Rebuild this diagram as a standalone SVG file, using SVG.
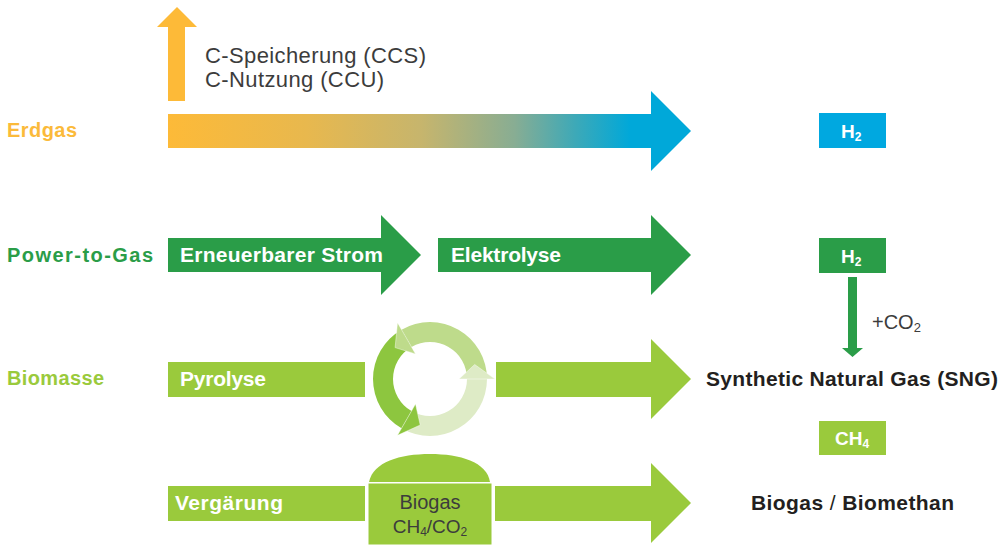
<svg xmlns="http://www.w3.org/2000/svg" width="1001" height="545" viewBox="0 0 1001 545">
<style>
.lbl{font-family:"Liberation Sans",Arial,sans-serif;font-weight:bold;}
.w{fill:#ffffff;}
.blk{fill:#231f20;}
.lt{font-family:"Liberation Sans",Arial,sans-serif;font-weight:normal;fill:#3c3c3c;}
.dg{fill:#2a9d48;}
.lg{fill:#9aca3c;}
.sep{stroke:#ffffff;stroke-width:0.6;stroke-opacity:0.7;}
</style>
<defs>
<linearGradient id="erdgrad" gradientUnits="userSpaceOnUse" x1="168" y1="0" x2="630" y2="0">
<stop offset="0" stop-color="#fdba38"/>
<stop offset="0.3" stop-color="#e8b84e"/>
<stop offset="0.55" stop-color="#c6b56d"/>
<stop offset="0.75" stop-color="#88ad93"/>
<stop offset="0.88" stop-color="#3ea9b7"/>
<stop offset="1" stop-color="#00a8d9"/>
</linearGradient>
</defs>
<rect width="1001" height="545" fill="#ffffff"/>

<g id="label-erdgas"><text class="lbl" x="7" y="137" font-size="20" fill="#fbba3a" textLength="70">Erdgas</text></g>
<g id="label-ptg"><text class="lbl dg" x="7" y="262" font-size="20" textLength="146">Power-to-Gas</text></g>
<g id="label-biomasse"><text class="lbl lg" x="7" y="385" font-size="20" textLength="97">Biomasse</text></g>

<g id="ccs-text">
<text class="lt" x="205" y="63" font-size="22" textLength="221">C-Speicherung (CCS)</text>
<text class="lt" x="205" y="87" font-size="22" textLength="179">C-Nutzung (CCU)</text>
</g>

<g id="erdgas-arrow"><polygon points="168,114 651,114 651,91 691,131 651,171 651,148 168,148" fill="url(#erdgrad)"/></g>

<g id="strom-arrow">
<polygon class="dg" points="168,238 381,238 381,215 421,255 381,295 381,272 168,272"/>
<text class="lbl w" x="180" y="262" font-size="21" textLength="203">Erneuerbarer Strom</text>
</g>
<g id="elektrolyse-arrow">
<polygon class="dg" points="438,238 651,238 651,215 691,255 651,295 651,272 438,272"/>
<text class="lbl w" x="451" y="262" font-size="21" textLength="110">Elektrolyse</text>
</g>

<g id="pyrolyse">
<rect class="lg" x="168" y="362" width="197" height="35"/>
<text class="lbl w" x="180" y="386" font-size="21" textLength="86">Pyrolyse</text>
</g>
<g id="pyrolyse-arrow"><polygon class="lg" points="496,362 651,362 651,339 691,379 651,419 651,397 496,397"/></g>

<g id="cycle">
<path fill="#deebc6" d="M487,379 A57,57 0 0 1 401.5,428.36 L411.5,411.04 A37,37 0 0 0 467,379 Z"/>
<path fill="#8dc63f" d="M401.5,428.36 A57,57 0 0 1 401.5,329.64 L411.5,346.96 A37,37 0 0 0 411.5,411.04 Z"/>
<path fill="#bedb8b" d="M401.5,329.64 A57,57 0 0 1 487,379 L467,379 A37,37 0 0 0 411.5,346.96 Z"/>
<polygon class="sep" fill="#deebc6" points="459,379 495,379 474.7,364.5"/>
<polygon class="sep" fill="#bedb8b" points="415.5,353.9 397.5,322.7 395.1,347.6"/>
<polygon class="sep" fill="#8dc63f" points="415.5,404.1 397.5,435.3 420.2,425"/>
</g>

<g id="vergaerung">
<rect class="lg" x="168" y="486" width="197" height="35"/>
<text class="lbl w" x="175" y="510" font-size="21" textLength="108">Vergärung</text>
</g>
<g id="biogas-tank">
<path class="lg" d="M369,482 C373,462 400,454 430,454 C460,454 487,462 490,482 Z"/>
<rect class="lg" x="368" y="483" width="124" height="62" stroke="#ffffff" stroke-width="1"/>
<text class="lt" x="430" y="509" font-size="20" text-anchor="middle" fill="#333333">Biogas</text>
<text class="lt" x="430" y="533" font-size="19" text-anchor="middle" fill="#333333">CH<tspan font-size="12" dy="3">4</tspan><tspan dy="-3">/CO</tspan><tspan font-size="12" dy="3">2</tspan></text>
</g>
<g id="vergaerung-arrow"><polygon class="lg" points="495,486 651,486 651,463 691,503 651,543 651,521 495,521"/></g>

<g id="h2-blue">
<rect x="819" y="113" width="67" height="35" fill="#00a8e0"/>
<text class="lbl w" x="841" y="138" font-size="19">H<tspan font-size="12" dy="3">2</tspan></text>
</g>
<g id="h2-green">
<rect class="dg" x="819" y="238" width="67" height="35"/>
<text class="lbl w" x="841" y="263" font-size="19">H<tspan font-size="12" dy="3">2</tspan></text>
</g>
<g id="sng"><text class="lbl blk" x="706" y="386" font-size="21" textLength="292">Synthetic Natural Gas (SNG)</text></g>
<g id="ch4">
<rect class="lg" x="819" y="421" width="67" height="34"/>
<text class="lbl w" x="835" y="445" font-size="19">CH<tspan font-size="12" dy="3">4</tspan></text>
</g>
<g id="biomethan"><text class="lbl blk" x="751" y="510" font-size="21" textLength="203">Biogas <tspan font-weight="normal">/</tspan> Biomethan</text></g>

<g id="connectors">
<polygon fill="#fdba38" points="168,101 168,27 157,27 177,7 197,27 185,27 185,101"/>
<polygon class="dg" points="848,277 857,277 857,348 863,348 852.5,357 842,348 848,348"/>
<text class="lt" x="872" y="329" font-size="20" fill="#333333">+CO<tspan font-size="13" dy="3">2</tspan></text>
</g>
</svg>
